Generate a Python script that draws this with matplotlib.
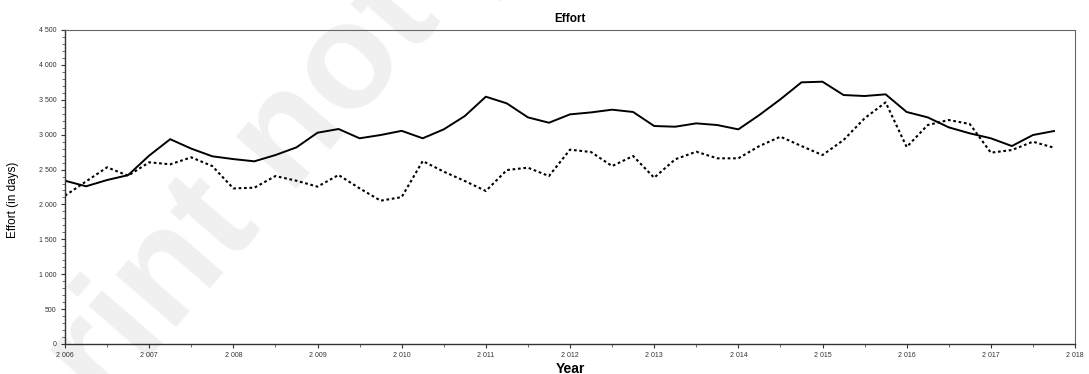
import matplotlib
matplotlib.use('Agg')
import matplotlib.pyplot as plt
from matplotlib.ticker import MultipleLocator, FuncFormatter
import numpy as np

# quarterly effort values
quarters = np.arange(2006.0, 2018.0, 0.25)

effort_solid = [2340, 2260, 2350, 2420, 2700, 2935, 2800, 2690,
                2650, 2618, 2708, 2818, 3028, 3081, 2948, 2995,
                3055, 2948, 3076, 3267, 3544, 3448, 3248, 3171,
                3291, 3319, 3358, 3325, 3124, 3114, 3162, 3138,
                3076, 3282, 3507, 3750, 3759, 3568, 3554, 3578,
                3325, 3248, 3105, 3019, 2948, 2837, 2995, 3052]

effort_dotted = [2125, 2330, 2532, 2412, 2604, 2575, 2675, 2550,
                 2230, 2240, 2407, 2340, 2255, 2422, 2231, 2054,
                 2105, 2622, 2470, 2336, 2193, 2493, 2527, 2407,
                 2785, 2751, 2550, 2694, 2383, 2647, 2756, 2661,
                 2661, 2837, 2971, 2837, 2708, 2923, 3234, 3463,
                 2823, 3138, 3210, 3153, 2742, 2780, 2899, 2813]

plt.rcParams['font.family'] = ['Liberation Sans', 'DejaVu Sans']

fig = plt.figure(figsize=(10.89, 3.74), dpi=100)
ax = fig.add_axes([65 / 1089, 30 / 374, 1010 / 1089, 314 / 374])

# faint watermark behind the chart
fig.text(-0.105, -0.769, 'Preprint not peer reviewed', rotation=49,
         rotation_mode='anchor', ha='left', va='baseline',
         fontsize=108, fontweight='bold', color='#f0f0f0', zorder=-5)
ax.patch.set_alpha(0)

ax.plot(quarters, effort_solid, color='black', lw=1.4, solid_joinstyle='round')
ax.plot(quarters, effort_dotted, color='black', lw=1.5, linestyle=(0, (1.3, 1.3)))

ax.set_xlim(2006, 2018)
ax.set_ylim(0, 4500)
ax.xaxis.set_major_locator(MultipleLocator(1))
ax.xaxis.set_minor_locator(MultipleLocator(0.5))
ax.yaxis.set_major_locator(MultipleLocator(500))
ax.yaxis.set_minor_locator(MultipleLocator(100))

fmt = FuncFormatter(lambda v, p: f"{int(round(v)):,}".replace(',', ' '))
ax.xaxis.set_major_formatter(fmt)
ax.yaxis.set_major_formatter(fmt)

ax.tick_params(which='major', length=3, width=0.8, labelsize=5, colors='#333333', pad=3)
ax.tick_params(which='minor', length=2, width=0.6, colors='#555555')

for s in ['left', 'bottom']:
    ax.spines[s].set_color('#333333')
    ax.spines[s].set_linewidth(1.0)
for s in ['top', 'right']:
    ax.spines[s].set_color('#666666')
    ax.spines[s].set_linewidth(0.8)

ax.set_title('Effort', fontsize=8.5, fontweight='bold', pad=6)
ax.set_xlabel('Year', fontsize=10, fontweight='bold', labelpad=2)
ax.set_ylabel('Effort (in days)', fontsize=8.5)
ax.yaxis.set_label_coords(-0.046, 0.46)

plt.savefig('out.png', dpi=100)
